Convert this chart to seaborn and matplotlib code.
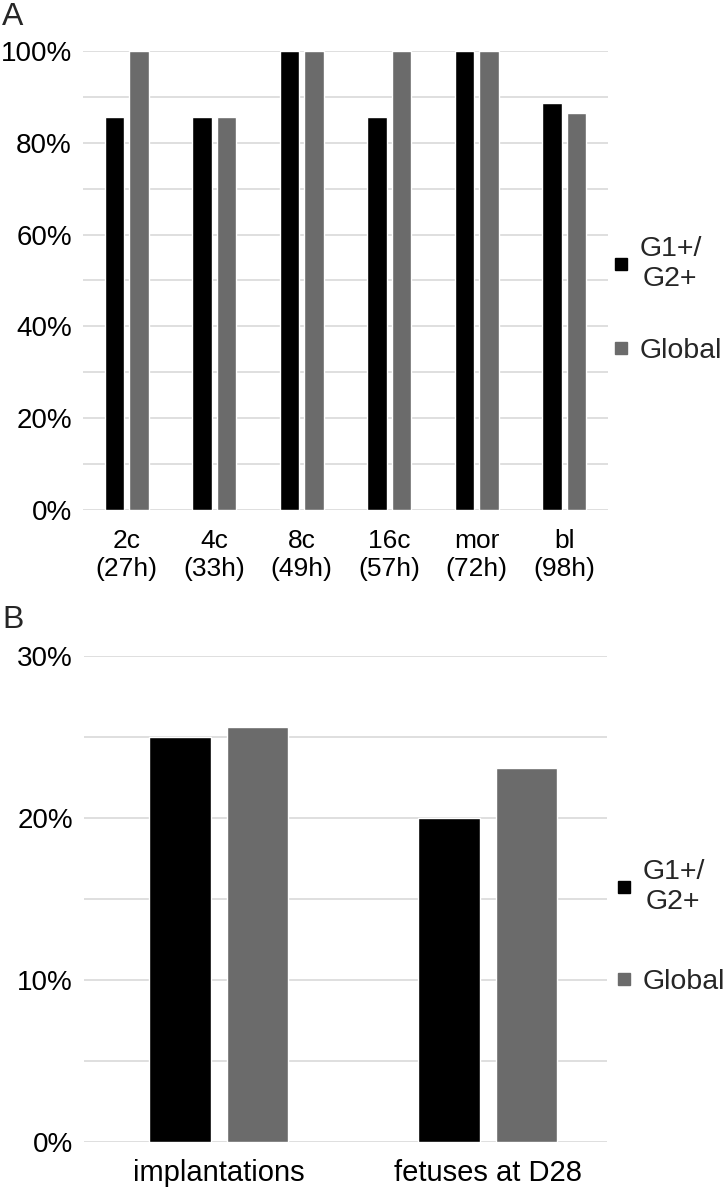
import matplotlib
matplotlib.use('Agg')
import pandas as pd
import matplotlib.pyplot as plt
import seaborn as sns
from matplotlib.lines import Line2D
from matplotlib.ticker import MultipleLocator, PercentFormatter

# Panel A: embryo development stages
stages = ['2c\n(27h)', '4c\n(33h)', '8c\n(49h)', '16c\n(57h)', 'mor\n(72h)', 'bl\n(98h)']
g1g2_a = [0.857, 0.857, 1.0, 0.857, 1.0, 0.887]
global_a = [1.0, 0.857, 1.0, 1.0, 1.0, 0.864]

# Panel B: outcomes after transfer
outcomes = ['implantations', 'fetuses at D28']
g1g2_b = [0.250, 0.200]
global_b = [0.256, 0.231]

series = ['G1+/\nG2+', 'Global']
colors = ['#000000', '#6b6b6b']

sns.set_theme(style='white')
plt.rcParams['font.family'] = ['Liberation Sans', 'DejaVu Sans']


def long_df(cats, first, second):
    n = len(cats)
    return pd.DataFrame({
        'cat': cats * 2,
        'group': [series[0]] * n + [series[1]] * n,
        'value': first + second,
    })


def style_axis(ax, top, major, minor, leg_anchor, leg_spacing):
    ax.set_ylim(0, top)
    ax.yaxis.set_major_locator(MultipleLocator(major))
    ax.yaxis.set_minor_locator(MultipleLocator(minor))
    ax.yaxis.set_major_formatter(PercentFormatter(1.0, decimals=0))
    ax.grid(axis='y', which='both', color='#d9d9d9', linewidth=1.2)
    ax.set_axisbelow(True)
    for s in ax.spines.values():
        s.set_visible(False)
    ax.set_xlabel('')
    ax.set_ylabel('')
    ax.tick_params(which='both', length=0)
    ax.tick_params(axis='y', labelsize=20, pad=8, colors='black')

    # small square legend keys, like the spreadsheet original
    handles = [Line2D([], [], marker='s', linestyle='none', markersize=9,
                      markerfacecolor=c, markeredgecolor=c, label=s)
               for c, s in zip(colors, series)]
    leg = ax.legend(handles=handles, loc='center left', bbox_to_anchor=leg_anchor,
                    frameon=False, fontsize=20.5, handlelength=0.45,
                    handletextpad=0.4, labelspacing=leg_spacing, borderaxespad=0)
    for t in leg.get_texts():
        t.set_multialignment('center')


fig = plt.figure(figsize=(7.26, 11.89), dpi=100)
ax_a = fig.add_axes([83 / 726, 1 - 510 / 1189, 525 / 726, 459 / 1189])
ax_b = fig.add_axes([84 / 726, 1 - 1142 / 1189, 523 / 726, 486 / 1189])

sns.barplot(data=long_df(stages, g1g2_a, global_a), x='cat', y='value', hue='group',
            palette=colors, saturation=1, width=0.565, gap=0.2, legend=False, ax=ax_a)
style_axis(ax_a, 1.0, 0.2, 0.1, (0.9916, 0.4575), 1.6)
ax_a.tick_params(axis='x', labelsize=19, pad=14, colors='black')

sns.barplot(data=long_df(outcomes, g1g2_b, global_b), x='cat', y='value', hue='group',
            palette=colors, saturation=1, width=0.573, gap=0.208, legend=False, ax=ax_b)
ax_b.set_xlim(-0.5, 1.444)
style_axis(ax_b, 0.30, 0.10, 0.05, (0.9992, 0.442), 1.9)
ax_b.tick_params(axis='x', labelsize=21, pad=12, colors='black')

fig.text(2 / 726, 1 - 17 / 1189, 'A', fontsize=23, va='center', ha='left')
fig.text(2 / 726, 1 - 620 / 1189, 'B', fontsize=23, va='center', ha='left')

fig.savefig('out.png', dpi=100, facecolor='white')
